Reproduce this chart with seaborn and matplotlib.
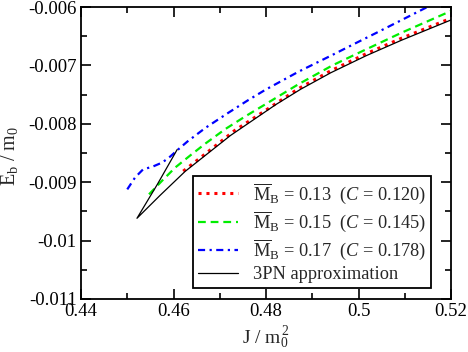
import matplotlib
matplotlib.use("Agg")
import matplotlib.pyplot as plt
import seaborn as sns
import pandas as pd
from matplotlib.lines import Line2D

# ---- data ----
pn_J = [0.4608, 0.4565, 0.4521, 0.4571, 0.4625, 0.4723, 0.4821, 0.4875, 0.4940, 0.5016, 0.5092, 0.5200]
pn_E = [-0.008440, -0.009038, -0.009618, -0.009225, -0.008816, -0.008201, -0.007672, -0.007408,
        -0.007126, -0.006836, -0.006572, -0.006222]

r_J = [0.4621, 0.4667, 0.4732, 0.4799, 0.4870, 0.4940, 0.5016, 0.5092, 0.5200]
r_E = [-0.008811, -0.008526, -0.008116, -0.007770, -0.007399, -0.007092, -0.006802, -0.006538, -0.006193]

g_J = [0.4547, 0.4576, 0.4604, 0.4636, 0.4669, 0.4712, 0.4756, 0.4799, 0.4870, 0.4944, 0.5005, 0.5092, 0.5200]
g_E = [-0.009208, -0.008969, -0.008747, -0.008543, -0.008338, -0.008090, -0.007869, -0.007664,
       -0.007323, -0.006998, -0.006768, -0.006444, -0.006068]

b_J = [0.4500, 0.4517, 0.4534, 0.4556, 0.4576, 0.4593, 0.4610, 0.4630, 0.4669, 0.4719, 0.4762,
       0.4799, 0.4870, 0.4944, 0.4994, 0.5037, 0.5150]
b_E = [-0.009123, -0.008918, -0.008782, -0.008730, -0.008662, -0.008560, -0.008440, -0.008304,
       -0.008070, -0.007809, -0.007592, -0.007416, -0.007109, -0.006819, -0.006619, -0.006449, -0.005995]

labels = [r'$\overline{\mathrm{M}}_{\mathrm{B}}$ = 0.13  ($C$ = 0.120)',
          r'$\overline{\mathrm{M}}_{\mathrm{B}}$ = 0.15  ($C$ = 0.145)',
          r'$\overline{\mathrm{M}}_{\mathrm{B}}$ = 0.17  ($C$ = 0.178)',
          '3PN approximation']

xticks = [0.44, 0.46, 0.48, 0.50, 0.52]
xticklabels = ['0.44', '0.46', '0.48', '0.5', '0.52']
yticks = [-0.011, -0.010, -0.009, -0.008, -0.007, -0.006]
yticklabels = ['-0.011', '-0.01', '-0.009', '-0.008', '-0.007', '-0.006']

# ---- style ----
sns.set_style("ticks")
plt.rcParams['font.family'] = ['Liberation Serif', 'DejaVu Serif']
plt.rcParams['mathtext.fontset'] = 'custom'
plt.rcParams['mathtext.rm'] = 'Liberation Serif'
plt.rcParams['mathtext.it'] = 'Liberation Serif:italic'
plt.rcParams['axes.unicode_minus'] = False

fig = plt.figure(figsize=(4.68, 3.52), dpi=100)
ax = fig.add_axes([0.1731, 0.1506, 0.7906, 0.8295])

styles = [
    dict(color='#ff0000', lw=2.2, ls=(0, (1, 1.6))),
    dict(color='#00ee00', lw=1.6, ls=(0, (3.5, 2.2))),
    dict(color='#0000ff', lw=1.6, ls=(0, (3.2, 2, 1, 2))),
    dict(color='black', lw=0.9, ls='-'),
]
curves = [(r_J, r_E), (g_J, g_E), (b_J, b_E), (pn_J, pn_E)]

for (xx, yy), st in zip(curves, styles):
    df = pd.DataFrame({'J': xx, 'E': yy})
    sns.lineplot(data=df, x='J', y='E', sort=False, estimator=None, ax=ax,
                 color=st['color'], linewidth=st['lw'], linestyle=st['ls'])

ax.set_xlim(0.44, 0.52)
ax.set_ylim(-0.011, -0.006)
ax.set_xticks(xticks)
ax.set_xticklabels(xticklabels)
ax.set_yticks(yticks)
ax.set_yticklabels(yticklabels)
ax.set_xticks([0.45, 0.47, 0.49, 0.51], minor=True)
ax.set_yticks([-0.0105, -0.0095, -0.0085, -0.0075, -0.0065], minor=True)
ax.tick_params(which='both', direction='in', top=True, right=True, labelsize=13.5, colors='black')
ax.tick_params(which='major', length=7, width=1.2, pad=3)
ax.tick_params(which='minor', length=4, width=1.2)
for s in ax.spines.values():
    s.set_linewidth(1.3)
    s.set_color('black')

ax.set_xlabel(r'J / m$_0^{\,2}$', fontsize=14, labelpad=3)
ax.set_ylabel(r'E$_\mathrm{b}$ / m$_0$', fontsize=14.5, labelpad=2)
ax.yaxis.set_label_coords(-0.165, 0.49)

handles = [Line2D([], [], color=st['color'], lw=st['lw'], ls=st['ls']) for st in styles]
leg = ax.legend(handles, labels, loc='lower right', bbox_to_anchor=(0.945, 0.039),
                fontsize=13.2, frameon=True, fancybox=False, framealpha=1,
                edgecolor='black', handlelength=2.2, handletextpad=0.8,
                borderpad=0.25, labelspacing=0.2, borderaxespad=0)
leg.get_frame().set_linewidth(1.3)

fig.savefig('out.png', dpi=100)
